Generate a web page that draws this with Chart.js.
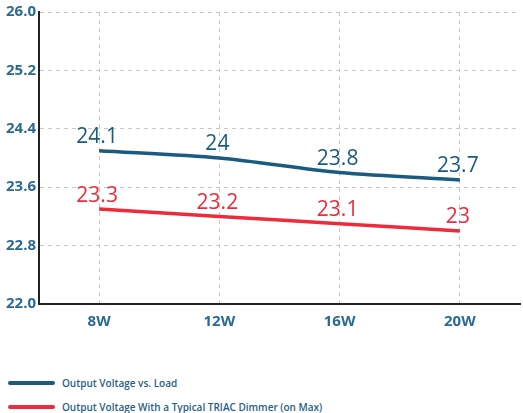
<!DOCTYPE html>
<html>
<head>
<meta charset="utf-8">
<script src="https://cdn.jsdelivr.net/npm/chart.js@4.4.0/dist/chart.umd.min.js"></script>
<style>
  html, body { margin: 0; padding: 0; background: #fff; }
  #wrap { position: relative; width: 523px; height: 413px; font-family: 'Open Sans', sans-serif; }
  #box { position: absolute; left: 0; top: 0; width: 523px; height: 340px; }
  #legend { position: absolute; left: 8px; top: 371px; }
  .item { display: flex; align-items: center; height: 24px; }
  .swatch { width: 47px; height: 4px; border-radius: 2px; margin-right: 7px; }
  .label { font-size: 10px; font-weight: 600; color: #1f6088; }
</style>
</head>
<body>
<div id="wrap">
  <div id="box"><canvas id="chart"></canvas></div>
  <div id="legend"></div>
</div>
<script>
const loads = ['8W', '12W', '16W', '20W'];
const voltageLoad = [24.1, 24, 23.8, 23.7];
const voltageDimmer = [23.3, 23.2, 23.1, 23];
const seriesNames = ['Output Voltage vs. Load', 'Output Voltage With a Typical TRIAC Dimmer (on Max)'];
const seriesColors = ['#1b5b80', '#ee2b3b'];

// draws the value above each point
const valueLabels = {
  id: 'valueLabels',
  afterDatasetsDraw(chart) {
    const ctx = chart.ctx;
    ctx.save();
    ctx.font = "21px 'Open Sans', sans-serif";
    ctx.textAlign = 'center';
    ctx.textBaseline = 'bottom';
    chart.data.datasets.forEach((ds, i) => {
      ctx.fillStyle = ds.borderColor;
      chart.getDatasetMeta(i).data.forEach((pt, j) => {
        ctx.fillText(String(ds.data[j]), pt.x - 2, pt.y - 3);
      });
    });
    ctx.restore();
  }
};

const tickFont = { family: "'Open Sans', sans-serif", size: 15, weight: 'bold' };

const chart = new Chart(document.getElementById('chart'), {
  type: 'line',
  data: {
    labels: loads,
    datasets: [
      { label: seriesNames[0], data: voltageLoad, borderColor: seriesColors[0] },
      { label: seriesNames[1], data: voltageDimmer, borderColor: seriesColors[1] }
    ].map(d => ({ ...d, borderWidth: 3.5, tension: 0.3, pointRadius: 0, fill: false }))
  },
  options: {
    responsive: true,
    maintainAspectRatio: false,
    animation: false,
    layout: { padding: { top: 10, right: 3 } },
    plugins: { legend: { display: false }, tooltip: { enabled: false } },
    scales: {
      x: {
        offset: true,
        grid: { offset: false, color: '#c8c8c8', drawTicks: false },
        border: { color: '#222', width: 2, dash: [4, 4] },
        ticks: { color: '#2a6a93', padding: 9, font: tickFont },
        afterFit: s => { s.height = 36; }
      },
      y: {
        min: 22,
        max: 26,
        grid: { color: '#c8c8c8', drawTicks: false },
        border: { color: '#222', width: 2, dash: [4, 4] },
        ticks: {
          stepSize: 0.8,
          color: '#2a6a93',
          padding: 3,
          font: tickFont,
          callback: v => v.toFixed(1)
        },
        afterFit: s => { s.width = 39; }
      }
    }
  },
  plugins: [valueLabels]
});

const legend = document.getElementById('legend');
chart.data.datasets.forEach(ds => {
  const row = document.createElement('div');
  row.className = 'item';
  row.innerHTML = `<span class="swatch" style="background:${ds.borderColor}"></span><span class="label">${ds.label}</span>`;
  legend.appendChild(row);
});
</script>
</body>
</html>
